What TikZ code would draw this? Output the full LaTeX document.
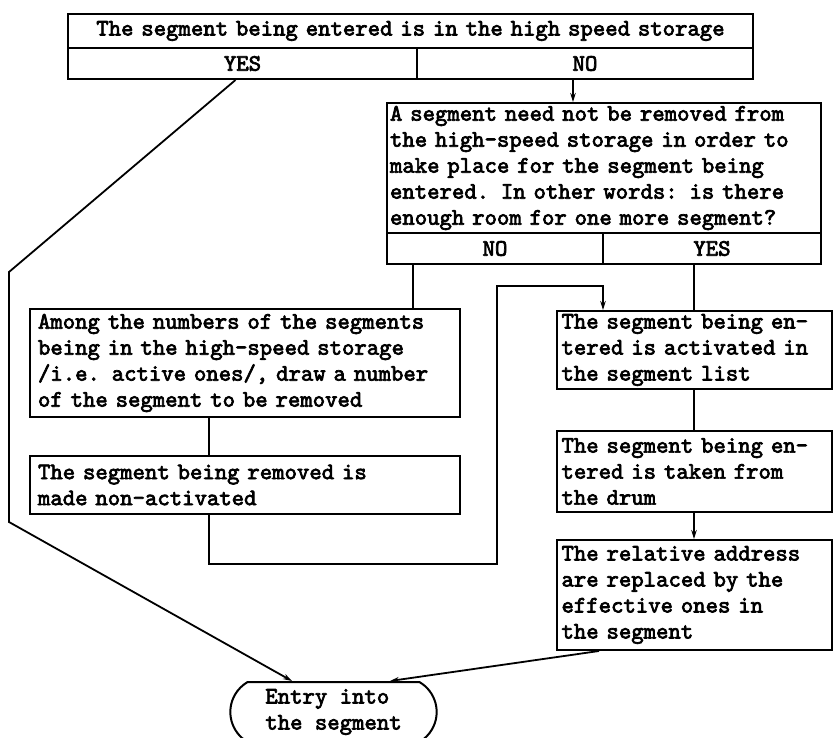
\documentclass[tikz,border=0pt]{standalone}
\usepackage{fontspec}
\setmonofont{lmmono10-regular.otf}[AutoFakeBold=3]
\usetikzlibrary{arrows.meta,shapes.misc}
\begin{document}
\begin{tikzpicture}[x=1pt,y=-1pt,
  txt/.style={font=\fontsize{23.6}{26}\selectfont\ttfamily\bfseries},
  box/.style={draw, line width=2pt, rectangle, anchor=north west, inner ysep=0pt, align=left, txt},
  ans/.style={box, align=center, minimum height=31pt},
  conn/.style={line width=1.8pt},
  arr/.style={conn, -{Stealth[length=9pt,width=5.5pt]}}]
\useasboundingbox (0,0) rectangle (833,738);

\node[box, align=center, minimum width=685pt, minimum height=34pt, text width=679pt, inner xsep=3pt] (topq) at (67,13) {The segment being entered is in the high speed storage};
\node[ans, minimum width=349pt, text width=339pt, inner xsep=5pt] (topyes) at (67,47) {YES};
\node[ans, minimum width=336pt, text width=326pt, inner xsep=5pt] (topno) at (416,47) {NO};

\node[box, minimum width=434pt, minimum height=130pt, text width=428pt, inner xsep=3pt] (q2) at (386,102) {A segment need not be removed from\\the high-speed storage in order to\\make place for the segment being\\entered. In other words: is there\\enough room for one more segment?};
\node[ans, minimum width=216pt, text width=206pt, inner xsep=5pt] (q2no) at (386,232) {NO};
\node[ans, minimum width=218pt, text width=208pt, inner xsep=5pt] (q2yes) at (602,232) {YES};

\node[box, minimum width=430pt, minimum height=108pt, text width=414pt, inner xsep=8pt] (among) at (29,308) {Among the numbers of the segments\\being in the high-speed storage\\/i.e. active ones/, draw a number\\of the segment to be removed};
\node[box, minimum width=430pt, minimum height=58pt, text width=414pt, inner xsep=8pt] (removed) at (29,455) {The segment being removed is\\made non-activated};

\node[box, minimum width=275pt, minimum height=78pt, text width=265pt, inner xsep=5pt] (act) at (555.5,310) {The segment being en-\\tered is activated in\\the segment list};
\node[box, minimum width=275pt, minimum height=81pt, text width=265pt, inner xsep=5pt] (drum) at (555.5,430) {The segment being en-\\tered is taken from\\the drum};
\node[box, minimum width=275pt, minimum height=110pt, text width=265pt, inner xsep=5pt] (reloc) at (555.5,539) {The relative address\\are replaced by the\\effective ones in\\the segment};

\node[draw, line width=2pt, shape=rounded rectangle, rounded rectangle arc length=120, minimum width=213pt, minimum height=60pt, align=left, txt] (term) at (333.5,712) {Entry into\\the segment};

\coordinate (yb1) at (9,272);
\coordinate (yb2) at (9,522);
\coordinate (lp) at (497,286);

\draw[arr] ([xshift=-12pt]topno.south) -- ([xshift=-12pt]topno.south |- q2.north);
\draw[arr] ([xshift=-7pt]topyes.south) -- (yb1) -- (yb2) -- ([xshift=-41.5pt]term.north);
\draw[conn] ([xshift=-82pt]q2no.south) -- ([xshift=-82pt]q2no.south |- among.north);
\draw[conn] (act.north |- q2yes.south) -- (act.north);
\draw[conn] ([xshift=-36pt]among.south) -- ([xshift=-36pt]among.south |- removed.north);
\draw[arr] ([xshift=-36pt]removed.south) -- ++(0,49) -| (lp) -| ([xshift=-91pt]act.north);
\draw[conn] (act.south) -- (drum.north);
\draw[arr] (drum.south) -- (reloc.north);
\draw[arr] ([xshift=-95pt]reloc.south) -- ([xshift=56.5pt]term.north);
\end{tikzpicture}
\end{document}
